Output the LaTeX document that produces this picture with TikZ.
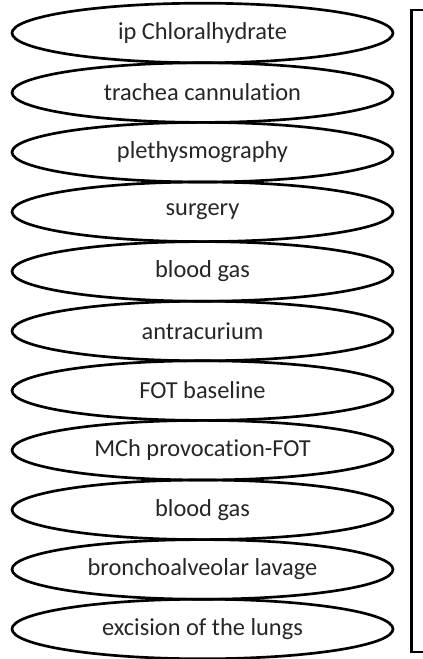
\documentclass[tikz,border=0pt]{standalone}
\usepackage{fontspec}
\setmainfont{Carlito}[Ligatures=NoCommon]
\usetikzlibrary{shapes.geometric}
\definecolor{ink}{HTML}{262626}
\tikzset{
  font=\fontsize{18.3}{21}\selectfont,
  %
  stepoval/.style={
    draw=black, line width=2pt, ellipse, inner sep=0pt,
    minimum width=285.75pt, minimum height=44.7pt, text=ink,
  },
  panel/.style={draw=black, line width=1.6pt, inner sep=0pt,
                minimum width=21pt, minimum height=481.5pt},
}
\begin{document}
\begin{tikzpicture}[x=0.75pt, y=-0.75pt]
  \useasboundingbox (0,0) rectangle (422,659);

  % the protocol steps, top to bottom
  \foreach \i/\txt in {1/ip Chloralhydrate, 2/trachea cannulation,
      3/plethysmography, 4/surgery, 5/blood gas, 6/antracurium,
      7/FOT baseline, 8/MCh provocation-FOT, 9/blood gas,
      10/bronchoalveolar lavage, 11/excision of the lungs} {
    \node[stepoval] (s\i) at (202.5,{33+59.6*(\i-1)}) {\txt};
  }

  % box on the right edge, cut by the frame
  \node[panel] (side) at (425.5,331) {};

\end{tikzpicture}
\end{document}
